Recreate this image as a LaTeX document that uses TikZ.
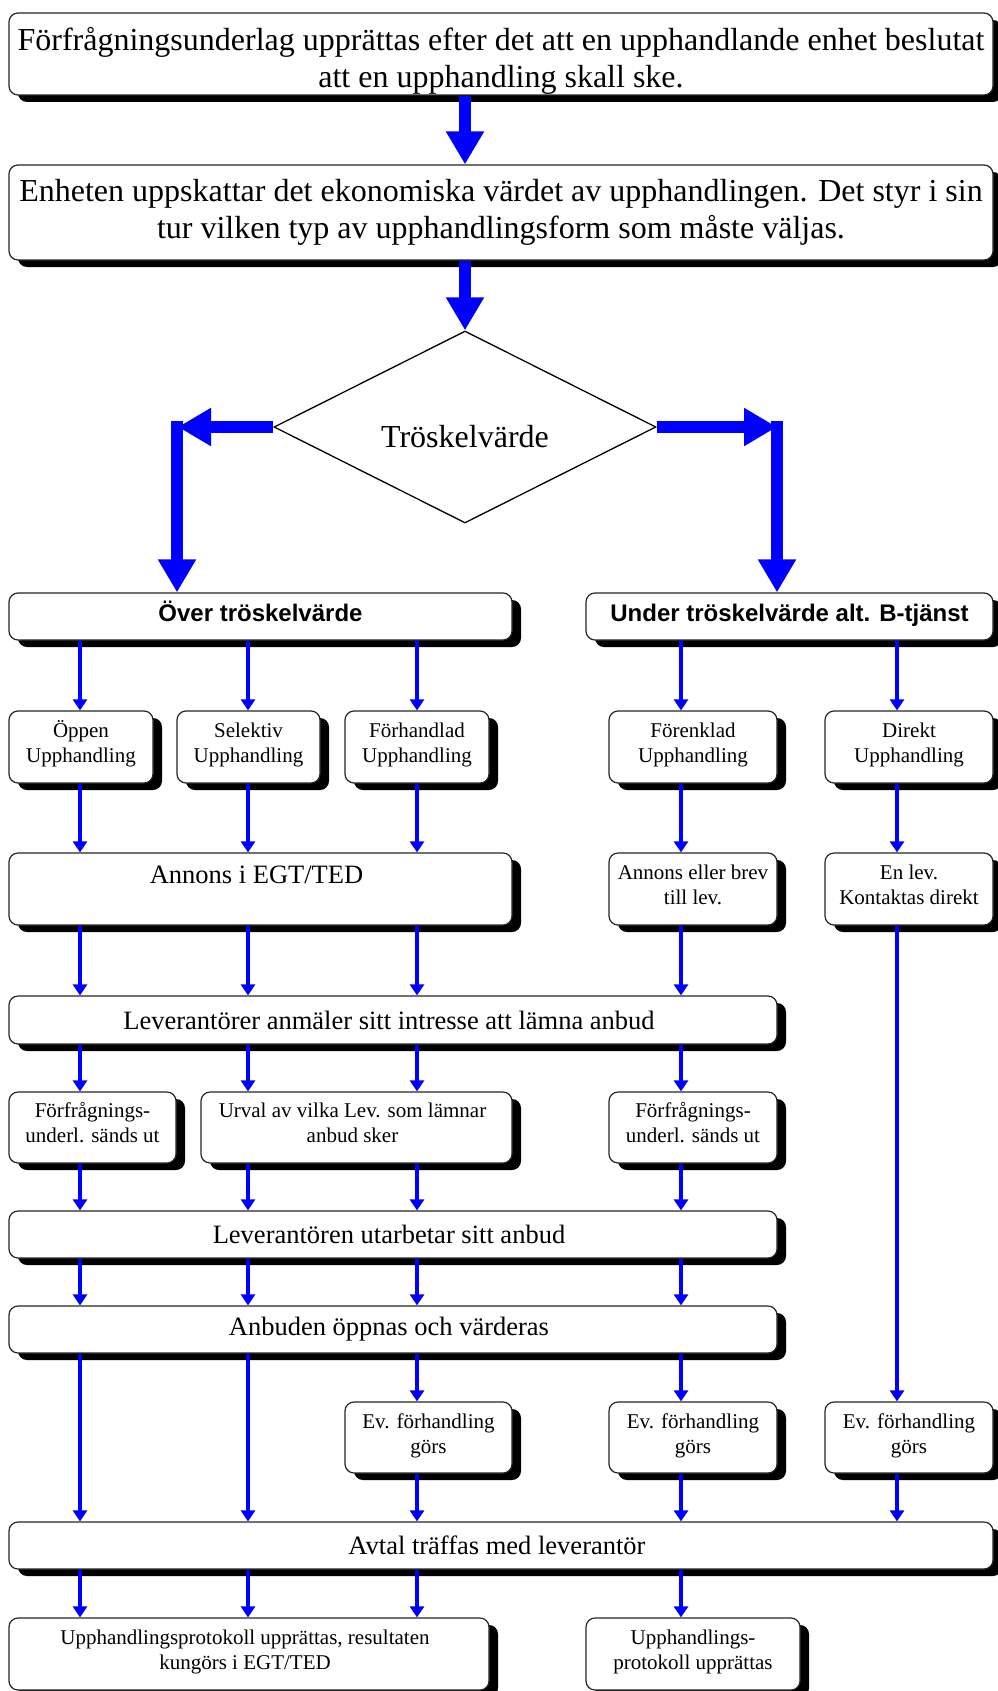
\documentclass[tikz,border=0pt]{standalone}
\usepackage{fontspec}
\setmainfont{Liberation Serif}
\newfontfamily\boldsans{Liberation Sans}
\usetikzlibrary{arrows.meta,shapes.geometric,shadows}
\newcommand\liftlines[2]{\raisebox{#1}[\height][\depth]{\begin{tabular}{@{}c@{}}#2\end{tabular}}}
\newcommand\liftone[2]{\raisebox{#1}[\height][\depth]{#2}}
\begin{document}
\begin{tikzpicture}[x=1pt,y=-1pt,
  box/.style={draw=black!85, line width=1.2pt, fill=white, rounded corners=9pt,
    inner sep=0pt, align=center,
    drop shadow={shadow xshift=9pt, shadow yshift=-7pt, fill=black, opacity=1}},
  bigf/.style={font=\fontsize{32}{37}\selectfont},
  midf/.style={font=\fontsize{26.5}{31}\selectfont},
  smallf/.style={font=\fontsize{21}{25}\selectfont},
  headf/.style={font=\boldsans\bfseries\fontsize{24}{28}\selectfont, text height=17pt, text depth=8pt},
  bigarrow/.style={blue, line width=12pt, -{Triangle[width=36pt,length=33pt]}},
  thinarrow/.style={blue, line width=3.5pt, -{Triangle[width=14pt,length=11pt]}},
]
\path[use as bounding box, clip] (0,0) rectangle (998,1691);
\fill[white] (0,0) rectangle (998,1691);

% columns
\coordinate (c1) at (80,0);
\coordinate (c2) at (248,0);
\coordinate (c3) at (417,0);
\coordinate (c4) at (681,0);
\coordinate (c5) at (897,0);

\node[box, bigf, minimum width=984pt, minimum height=82pt] (top) at (501,54)
  {\liftlines{-8pt}{Förfrågningsunderlag upprättas efter det att en upphandlande enhet beslutat\\att en upphandling skall ske.}};
\node[box, bigf, minimum width=984pt, minimum height=95pt] (est) at (501,212.5)
  {Enheten uppskattar det ekonomiska värdet av upphandlingen. Det styr i sin\\tur vilken typ av upphandlingsform som måste väljas.};

\node[diamond, draw=black, line width=1.3pt, fill=white, minimum width=382pt, minimum height=192pt, inner sep=0pt, bigf] (dia) at (465,427)
  {\liftone{-10pt}{Tröskelvärde}};

\node[box, headf, minimum width=503pt, minimum height=47pt] (over) at (260.5,616.5) {Över tröskelvärde};
\node[box, headf, minimum width=407pt, minimum height=47pt] (under) at (789.5,616.5) {Under tröskelvärde alt. B-tjänst};

\node[box, smallf, minimum width=144pt, minimum height=72pt] (oppen) at (81,747) {\liftlines{2.5pt}{Öppen\\Upphandling}};
\node[box, smallf, minimum width=143pt, minimum height=72pt] (selektiv) at (248.5,747) {\liftlines{2.5pt}{Selektiv\\Upphandling}};
\node[box, smallf, minimum width=144pt, minimum height=72pt] (forhandlad) at (417,747) {\liftlines{2.5pt}{Förhandlad\\Upphandling}};
\node[box, smallf, minimum width=168pt, minimum height=72pt] (forenklad) at (693,747) {\liftlines{2.5pt}{Förenklad\\Upphandling}};
\node[box, smallf, minimum width=168pt, minimum height=72pt] (direkt) at (909,747) {\liftlines{2.5pt}{Direkt\\Upphandling}};

\node[box, midf, minimum width=503pt, minimum height=72pt] (annons) at (260.5,889) {\kern-8pt\liftone{14pt}{Annons i EGT/TED}};
\node[box, smallf, minimum width=168pt, minimum height=72pt] (brev) at (693,889) {\liftlines{2.5pt}{Annons eller brev\\till lev.}};
\node[box, smallf, minimum width=168pt, minimum height=72pt] (enlev) at (909,889) {\liftlines{2.5pt}{En lev.\\Kontaktas direkt}};

\node[box, midf, minimum width=768pt, minimum height=48pt] (anmaler) at (393,1020) {\kern-8pt Leverantörer anmäler sitt intresse att lämna anbud};

\node[box, smallf, minimum width=167pt, minimum height=71pt] (ff1) at (92.5,1127.5) {\liftlines{3pt}{Förfrågnings-\\underl. sänds ut}};
\node[box, smallf, minimum width=311pt, minimum height=71pt] (urval) at (356.5,1127.5) {\kern-8pt\liftlines{3pt}{Urval av vilka Lev. som lämnar\\anbud sker}};
\node[box, smallf, minimum width=168pt, minimum height=71pt] (ff2) at (693,1127.5) {\liftlines{3pt}{Förfrågnings-\\underl. sänds ut}};

\node[box, midf, minimum width=768pt, minimum height=47pt] (utarb) at (393,1234.5) {\kern-8pt Leverantören utarbetar sitt anbud};
\node[box, midf, minimum width=768pt, minimum height=47pt] (anbuden) at (393,1329.5) {\kern-8pt Anbuden öppnas och värderas};

\node[box, smallf, minimum width=167pt, minimum height=71pt] (ev3) at (428.5,1437.5) {\liftlines{2pt}{Ev. förhandling\\görs}};
\node[box, smallf, minimum width=168pt, minimum height=71pt] (ev4) at (693,1437.5) {\liftlines{2pt}{Ev. förhandling\\görs}};
\node[box, smallf, minimum width=168pt, minimum height=71pt] (ev5) at (909,1437.5) {\liftlines{2pt}{Ev. förhandling\\görs}};

\node[box, midf, minimum width=984pt, minimum height=47pt] (avtal) at (501,1545.5) {\kern-8pt Avtal träffas med leverantör};

\node[box, smallf, minimum width=480pt, minimum height=72pt] (prot1) at (249,1654) {\kern-8pt\liftlines{2pt}{Upphandlingsprotokoll upprättas, resultaten\\kungörs i EGT/TED}};
\node[box, smallf, minimum width=214pt, minimum height=72pt] (prot2) at (693,1654) {\liftlines{2pt}{Upphandlings-\\protokoll upprättas}};

% big arrows
\draw[bigarrow] (top.south -| dia.north) -- (est.north -| dia.north);
\draw[bigarrow] (est.south -| dia.north) -- (dia.north);
\coordinate (lk) at (178,427);
\coordinate (lk2) at (177,421);
\coordinate (rk) at (777,427);
\coordinate (rk2) at (777,421);
\draw[bigarrow] (dia.west) -- (lk);
\draw[bigarrow] (lk2) -- (over.north -| lk2);
\draw[bigarrow] (dia.east) -- (rk);
\draw[bigarrow] (rk2) -- (under.north -| rk2);

% thin arrows
\draw[thinarrow] (over.south -| c1) -- (oppen.north -| c1);
\draw[thinarrow] (over.south -| c2) -- (selektiv.north -| c2);
\draw[thinarrow] (over.south -| c3) -- (forhandlad.north -| c3);
\draw[thinarrow] (under.south -| c4) -- (forenklad.north -| c4);
\draw[thinarrow] (under.south -| c5) -- (direkt.north -| c5);

\draw[thinarrow] (oppen.south -| c1) -- (annons.north -| c1);
\draw[thinarrow] (selektiv.south -| c2) -- (annons.north -| c2);
\draw[thinarrow] (forhandlad.south -| c3) -- (annons.north -| c3);
\draw[thinarrow] (forenklad.south -| c4) -- (brev.north -| c4);
\draw[thinarrow] (direkt.south -| c5) -- (enlev.north -| c5);

\draw[thinarrow] (annons.south -| c1) -- (anmaler.north -| c1);
\draw[thinarrow] (annons.south -| c2) -- (anmaler.north -| c2);
\draw[thinarrow] (annons.south -| c3) -- (anmaler.north -| c3);
\draw[thinarrow] (brev.south -| c4) -- (anmaler.north -| c4);
\draw[thinarrow] (enlev.south -| c5) -- (ev5.north -| c5);

\draw[thinarrow] (anmaler.south -| c1) -- (ff1.north -| c1);
\draw[thinarrow] (anmaler.south -| c2) -- (urval.north -| c2);
\draw[thinarrow] (anmaler.south -| c3) -- (urval.north -| c3);
\draw[thinarrow] (anmaler.south -| c4) -- (ff2.north -| c4);

\draw[thinarrow] (ff1.south -| c1) -- (utarb.north -| c1);
\draw[thinarrow] (urval.south -| c2) -- (utarb.north -| c2);
\draw[thinarrow] (urval.south -| c3) -- (utarb.north -| c3);
\draw[thinarrow] (ff2.south -| c4) -- (utarb.north -| c4);

\draw[thinarrow] (utarb.south -| c1) -- (anbuden.north -| c1);
\draw[thinarrow] (utarb.south -| c2) -- (anbuden.north -| c2);
\draw[thinarrow] (utarb.south -| c3) -- (anbuden.north -| c3);
\draw[thinarrow] (utarb.south -| c4) -- (anbuden.north -| c4);

\draw[thinarrow] (anbuden.south -| c1) -- (avtal.north -| c1);
\draw[thinarrow] (anbuden.south -| c2) -- (avtal.north -| c2);
\draw[thinarrow] (anbuden.south -| c3) -- (ev3.north -| c3);
\draw[thinarrow] (anbuden.south -| c4) -- (ev4.north -| c4);

\draw[thinarrow] (ev3.south -| c3) -- (avtal.north -| c3);
\draw[thinarrow] (ev4.south -| c4) -- (avtal.north -| c4);
\draw[thinarrow] (ev5.south -| c5) -- (avtal.north -| c5);

\draw[thinarrow] (avtal.south -| c1) -- (prot1.north -| c1);
\draw[thinarrow] (avtal.south -| c2) -- (prot1.north -| c2);
\draw[thinarrow] (avtal.south -| c3) -- (prot1.north -| c3);
\draw[thinarrow] (avtal.south -| c4) -- (prot2.north -| c4);
\end{tikzpicture}
\end{document}
